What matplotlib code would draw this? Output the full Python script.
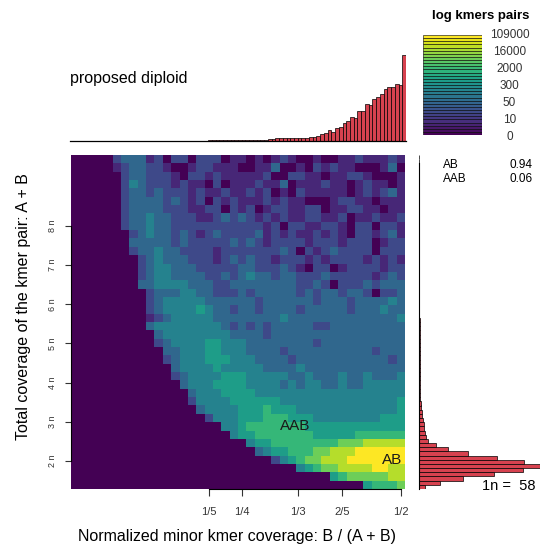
import matplotlib
matplotlib.use('Agg')
import matplotlib.pyplot as plt
import numpy as np

plt.rcParams['font.family'] = ['Liberation Sans', 'DejaVu Sans']

# smudge grid: colour level 0-9 (log kmer pairs), top row first, 40 x 40 cells
smudge_rows = [
    "0000023331202202220110101210010011211121",
    "0000012332210012211100113001021211000130",
    "0000002332221022121111120022110112210001",
    "0000002432221211020111211301112110121101",
    "0000002332322212112112120102111110121231",
    "0000002333323212021211121211000122110111",
    "0000002333322211220212012211220112211011",
    "0000002334332221123232121211221120112112",
    "0000002334332222222222212022112210220221",
    "0000000234332321232222312121121210221231",
    "0000000333332322222323212222122212220122",
    "0000000233433222212222222320212322220222",
    "0000000023433322212323221222121222212121",
    "0000000023443332222233222321022012222122",
    "0000000023443333223234332332223222221232",
    "0000000033444433322333333332232022232333",
    "0000000002333443322232333332323323320223",
    "0000000002344444333333233333323332333343",
    "0000000002344445433233233332333332333433",
    "0000000001234444433333333433333333333334",
    "0000000003444444443232323333322333333333",
    "0000000000344444444333323333333333333333",
    "0000000000234444554443333333323333333333",
    "0000000000033444554443333233333333332333",
    "0000000000023444555444333323333333333323",
    "0000000000003444454444433334333333333333",
    "0000000000002344445554444433433343343334",
    "0000000000000344455554444343443343344444",
    "0000000000000034445555444444444444444444",
    "0000000000000024444555555444444444444445",
    "0000000000000003444455565554444444444445",
    "0000000000000000244455566655544444444555",
    "0000000000000000004456666666555555555555",
    "0000000000000000000455666666655555666666",
    "0000000000000000000004556666666677788888",
    "0000000000000000000000345566677888999999",
    "0000000000000000000000002456778889999999",
    "0000000000000000000000000004567788889988",
    "0000000000000000000000000000000567777788",
    "0000000000000000000000000000000000056667",
]

# axis ranges: minor coverage ratio and total coverage
x_lo, x_hi = -0.00625, 0.49375
cov_lo, cov_hi = 74.5, 569.0
one_n = 58

# top histogram (minor ratio), 90 bins, relative heights
top_hist = [0] * 10 + [1] * 27 + [2] * 8 + [3] * 8 + [5, 6, 8, 9] + \
    [8, 8, 8, 8, 8, 9] + \
    [10, 13, 13, 16, 20, 25, 33, 26, 38, 43, 53, 61, 71, 68, 90, 90,
     111, 107, 126, 133, 141, 156, 161, 161, 172, 167, 258]

# right histogram (total coverage), 80 bins, bottom first
right_hist = [18, 63, 133, 226, 313, 363, 316, 233, 148, 88, 51, 28, 20, 18,
              16, 15, 13, 10, 8, 6, 5, 4, 4, 3, 3] + [2] * 16 + [1] * 39

x_ticks = [1/5, 1/4, 1/3, 2/5, 0.4875]
x_tick_labels = ['1/5', '1/4', '1/3', '2/5', '1/2']
y_ticks_n = [2, 3, 4, 5, 6, 7, 8]

legend_labels = ['0', '10', '50', '300', '2000', '16000', '109000']

peak_names = ['AB', 'AAB']
peak_sizes = [0.94, 0.06]
peak_x = [0.474, 0.329]
peak_y = [117, 168]

W, H = 540, 547
bar_col = '#d7424f'


def box(l, t, r, b):
    return [l / W, 1 - b / H, (r - l) / W, (b - t) / H]


def fx(px):
    return px / W


def fy(py):
    return 1 - py / H


fig = plt.figure(figsize=(W / 100, H / 100), dpi=100)

# main smudge heatmap
ax = fig.add_axes(box(71, 155, 405, 489))
grid = np.array([[int(c) for c in row] for row in smudge_rows])
ax.imshow(grid, cmap='viridis', vmin=0, vmax=9, aspect='auto',
          interpolation='nearest', extent=[x_lo, x_hi, cov_lo, cov_hi])
ax.set_xlim(x_lo, x_hi)
ax.set_ylim(cov_lo, cov_hi)
for s in ['top', 'right']:
    ax.spines[s].set_visible(False)
ax.spines['bottom'].set_bounds(x_ticks[0], x_ticks[-1])
ax.spines['left'].set_bounds(y_ticks_n[0] * one_n, y_ticks_n[-1] * one_n)
ax.spines['bottom'].set_linewidth(0.8)
ax.spines['left'].set_linewidth(0.8)
ax.set_xticks(x_ticks)
ax.set_xticklabels(x_tick_labels)
ax.set_yticks([k * one_n for k in y_ticks_n])
ax.set_yticklabels(['%d n' % k for k in y_ticks_n], rotation=90, va='center')
ax.tick_params(axis='x', length=5, width=0.8, labelsize=8, pad=8, colors='#333333')
ax.tick_params(axis='y', length=4, width=0.8, labelsize=6.5, pad=6, colors='#333333')
for name, px, py in zip(peak_names, peak_x, peak_y):
    ax.text(px, py, name, ha='center', va='center', fontsize=11, color='#1a1a1a')

# top histogram
axt = fig.add_axes(box(70, 55, 406, 141))
axt.bar(np.arange(len(top_hist)), top_hist, width=1, align='edge',
        color=bar_col, edgecolor='black', linewidth=0.5)
axt.plot([0, len(top_hist)], [0, 0], color='black', linewidth=0.9, clip_on=False)
axt.set_xlim(0, len(top_hist))
axt.set_ylim(0, max(top_hist))
axt.axis('off')
fig.text(fx(70), fy(78), 'proposed diploid', fontsize=11.5, va='center', ha='left')

# right histogram
axr = fig.add_axes(box(419, 155, 540, 489))
edges = np.linspace(cov_lo, cov_hi, len(right_hist) + 1)
axr.barh(edges[:-1], right_hist, height=np.diff(edges), align='edge',
         color=bar_col, edgecolor='black', linewidth=0.5)
axr.plot([0, 0], [cov_lo, edges[-3]], color='black', linewidth=0.8, clip_on=False)
axr.set_ylim(cov_lo, cov_hi)
axr.set_xlim(0, max(right_hist))
axr.axis('off')

# colour legend
axl = fig.add_axes(box(423, 35, 482, 135))
cols = plt.cm.viridis(np.linspace(0, 1, 32))
axl.barh(np.arange(32), 1, height=1, align='edge', color=cols,
         edgecolor='black', linewidth=0.4)
axl.set_xlim(0, 1)
axl.set_ylim(0, 32)
axl.axis('off')
fig.text(fx(481), fy(16), 'log kmers pairs', fontsize=9.5, fontweight='bold',
         ha='center', va='center')
for i, lab in enumerate(legend_labels):
    fig.text(fx(509.5), fy(136.5 - i * 101.5 / 6), lab, fontsize=8.5,
             ha='center', va='center', color='#333333')

# peak sizes
for i, (name, size) in enumerate(zip(peak_names, peak_sizes)):
    yy = fy(165 + i * 14)
    fig.text(fx(443), yy, name, fontsize=8.5, ha='left', va='center')
    fig.text(fx(533), yy, '%.2f' % size, fontsize=8.5, ha='right', va='center')

fig.text(fx(482), fy(486), '1n =  %d' % one_n, fontsize=10.5, ha='left', va='center')

fig.text(fx(237.5), fy(537), 'Normalized minor kmer coverage: B / (A + B)',
         fontsize=11.5, ha='center', va='center')
fig.text(fx(24), fy(307), 'Total coverage of the kmer pair: A + B',
         fontsize=11.5, ha='center', va='center', rotation=90)

fig.savefig('out.png', dpi=100)
